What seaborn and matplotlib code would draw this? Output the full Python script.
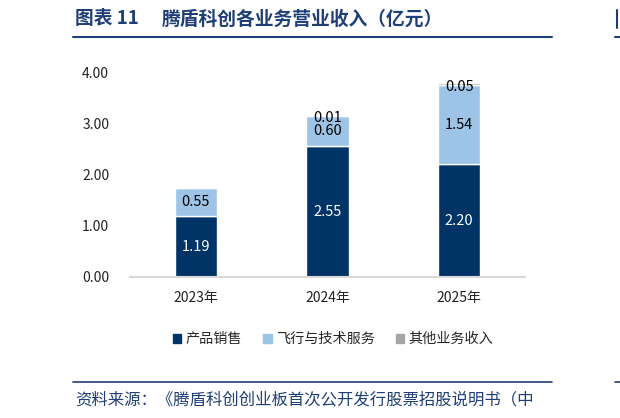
import numpy as np
import pandas as pd
import matplotlib
matplotlib.use('Agg')
import matplotlib.pyplot as plt
from matplotlib.patches import Rectangle
from matplotlib.lines import Line2D
import seaborn as sns

### data ############################################
years = ['2023年', '2024年', '2025年']
product_sales = [1.19, 2.55, 2.20]   # 产品销售
flight_tech = [0.55, 0.60, 1.54]     # 飞行与技术服务
other_income = [0.00, 0.01, 0.05]    # 其他业务收入
series_names = ['产品销售', '飞行与技术服务', '其他业务收入']
y_ticks = [0, 1, 2, 3, 4]

title_no = '图表 11'
title = '腾盾科创各业务营业收入（亿元）'
source = '资料来源：《腾盾科创创业板首次公开发行股票招股说明书（中'

### style ###########################################
sns.set_style('white')
plt.rcParams['font.family'] = ['Noto Sans CJK SC', 'DejaVu Sans']
NAVY = '#003366'
LIGHT = '#9dc3e6'
GRAY = '#a6a6a6'
TITLE_C = '#1f3f77'

fig = plt.figure(figsize=(6.2, 4.18), dpi=100)
ax = fig.add_axes([130/620, 1-277/418, 395/620, 205/418])

df = pd.DataFrame({'year': years, 'p': product_sales, 'f': flight_tech, 'o': other_income})
bottom2 = df['p'].values
bottom3 = df['p'].values + df['f'].values

sns.barplot(data=df, x='year', y='p', color=NAVY, width=0.32, saturation=1, ax=ax)
sns.barplot(data=df, x='year', y='f', color=LIGHT, width=0.32, saturation=1, bottom=bottom2, ax=ax)
sns.barplot(data=df, x='year', y='o', color=GRAY, width=0.32, saturation=1, bottom=bottom3, ax=ax)

# value labels
for i in range(len(years)):
    ax.text(i, product_sales[i] / 2, '%.2f' % product_sales[i], ha='center', va='center',
            color='white', fontsize=10.5)
    ax.text(i, bottom2[i] + flight_tech[i] / 2, '%.2f' % flight_tech[i], ha='center', va='center',
            color='black', fontsize=10.5)
    if other_income[i] > 0:
        ax.text(i, bottom3[i] + other_income[i] / 2 - 0.05, '%.2f' % other_income[i], ha='center',
                va='center', color='black', fontsize=10.5)

ax.set_xlim(-0.5, 2.5)
ax.set_ylim(0, 4)
ax.set_yticks(y_ticks)
ax.set_yticklabels(['%.2f' % v for v in y_ticks])
ax.set_xlabel('')
ax.set_ylabel('')
ax.tick_params(axis='both', length=0, labelsize=10, colors='#222222')
ax.tick_params(axis='y', pad=15)
ax.tick_params(axis='x', pad=10)
for s in ['top', 'right', 'left']:
    ax.spines[s].set_visible(False)
ax.spines['bottom'].set_color('#d9d9d9')
ax.spines['bottom'].set_linewidth(1.5)

# legend
handles = [Rectangle((0, 0), 1, 1, color=c) for c in [NAVY, LIGHT, GRAY]]
fig.legend(handles, series_names, loc='center', bbox_to_anchor=(333/620, 1-339/418), ncol=3,
           frameon=False, fontsize=10.2, handlelength=0.6, handleheight=0.6, handletextpad=0.3,
           columnspacing=1.5)

# title + rules
fig.text(75/620, 1-19/418, title_no, fontsize=13.5, fontweight='bold', color=TITLE_C, va='center')
fig.text(162/620, 1-19/418, title, fontsize=13.5, fontweight='bold', color=TITLE_C, va='center')
fig.add_artist(Line2D([73/620, 552/620], [1-37/418, 1-37/418], color=TITLE_C, lw=1.5))
fig.add_artist(Line2D([73/620, 552/620], [1-382/418, 1-382/418], color=TITLE_C, lw=1.2))
fig.text(75/620, 1-400/418, source, fontsize=11.8, style='italic', color=TITLE_C, va='center')

# edge of the neighbouring chart
fig.add_artist(Line2D([617/620, 617/620], [1-10/418, 1-28/418], color=TITLE_C, lw=1.5))
fig.add_artist(Line2D([615/620, 1.0], [1-37/418, 1-37/418], color=TITLE_C, lw=1.5))
fig.add_artist(Line2D([615/620, 1.0], [1-382/418, 1-382/418], color=TITLE_C, lw=1.2))

fig.savefig('out.png', dpi=100)
